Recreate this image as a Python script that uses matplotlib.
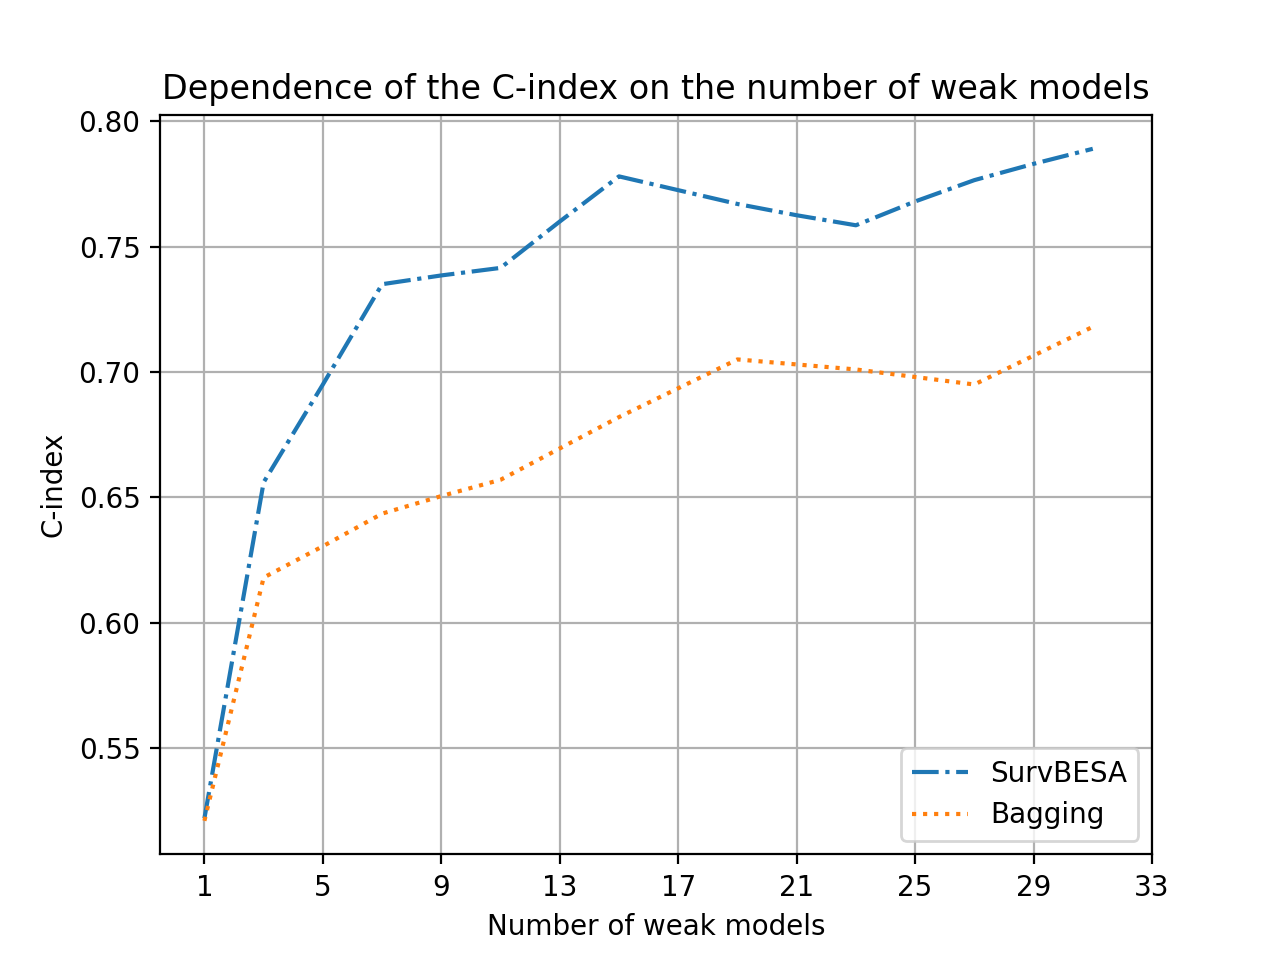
import numpy as np
import matplotlib

matplotlib.use("Agg")
import matplotlib.pyplot as plt  # noqa: E402

n_models = list(range(1, 32, 2))
survbesa = [0.522, 0.656, 0.695, 0.735, 0.7385, 0.7415, 0.760, 0.778, 0.7725, 0.767,
            0.7625, 0.7585, 0.768, 0.7765, 0.783, 0.789]
bagging = [0.521, 0.618, 0.6305, 0.6435, 0.6505, 0.657, 0.6695, 0.682, 0.6935, 0.705,
           0.703, 0.701, 0.698, 0.695, 0.7065, 0.718]

fig, ax = plt.subplots(figsize=(6.4, 4.8), dpi=200)
ax.plot(n_models, survbesa, linestyle="-.", label="SurvBESA")
ax.plot(n_models, bagging, linestyle=":", label="Bagging")
ax.set_xticks(range(1, 34, 4))
ax.grid(True)
ax.set_xlabel("Number of weak models")
ax.set_ylabel("C-index")
ax.set_title("Dependence of the C-index on the number of weak models")
ax.legend(loc="lower right")
fig.savefig("out.png")
plt.close(fig)
